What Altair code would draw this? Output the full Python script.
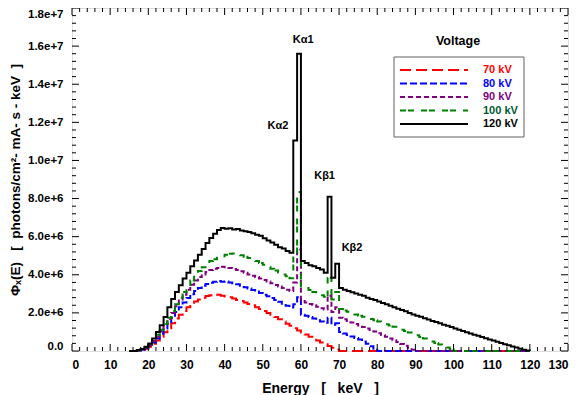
import altair as alt
import pandas as pd

# ---------------- data (values in units of 1e6 photons/cm^2-mA-s-keV) -------------
SERIES = ["70 kV", "80 kV", "90 kV", "100 kV", "120 kV"]
E_FIRST_BIN = 17          # first 1-keV bin (keV)
E_LAST = 120              # spectra drawn to this energy

PHI_70 = [0.02, 0.05, 0.12, 0.22, 0.38, 0.55, 0.75, 0.98, 1.2, 1.45, 1.7, 1.9, 2.1, 2.3,
          2.45, 2.6, 2.7, 2.8, 2.88, 2.93, 2.97, 2.95, 2.9, 2.86, 2.82, 2.75, 2.68, 2.62,
          2.55, 2.47, 2.4, 2.3, 2.2, 2.1, 2.0, 1.9, 1.78, 1.66, 1.55, 1.43, 1.32, 1.2,
          1.08, 0.97, 0.86, 0.75, 0.65, 0.55, 0.45, 0.35, 0.26, 0.17, 0.08]

PHI_80 = [0.03, 0.06, 0.15, 0.28, 0.45, 0.65, 0.9, 1.18, 1.45, 1.75, 2.05, 2.3, 2.55, 2.78,
          2.98, 3.15, 3.3, 3.42, 3.52, 3.58, 3.63, 3.67, 3.63, 3.65, 3.6, 3.55, 3.5, 3.42,
          3.35, 3.28, 3.2, 3.12, 3.05, 2.95, 2.87, 2.78, 2.68, 2.58, 2.48, 2.38, 2.28,
          2.45, 2.82, 1.9, 1.85, 1.78, 1.7, 1.62, 1.55, 1.48, 1.75, 1.38, 1.45, 1.0, 0.92,
          0.84, 0.76, 0.68, 0.6, 0.5, 0.38, 0.25, 0.12]

PHI_90 = [0.03, 0.07, 0.17, 0.32, 0.52, 0.75, 1.02, 1.35, 1.68, 2.0, 2.35, 2.65, 2.95, 3.22,
          3.48, 3.7, 3.88, 4.02, 4.15, 4.25, 4.32, 4.35, 4.42, 4.4, 4.35, 4.3, 4.25, 4.18,
          4.1, 4.02, 3.95, 3.88, 3.8, 3.72, 3.65, 3.55, 3.47, 3.38, 3.3, 3.22, 3.15, 3.6,
          5.33, 2.62, 2.55, 2.47, 2.4, 2.32, 2.25, 2.18, 2.9, 2.05, 2.3, 1.75, 1.66, 1.58,
          1.5, 1.42, 1.34, 1.26, 1.18, 1.1, 1.02, 0.93, 0.84, 0.75, 0.66, 0.57, 0.47, 0.37,
          0.27, 0.17, 0.07]

PHI_100 = [0.04, 0.08, 0.2, 0.36, 0.58, 0.85, 1.12, 1.42, 1.75, 2.1, 2.45, 2.8, 3.1, 3.4,
           3.7, 3.97, 4.2, 4.4, 4.6, 4.72, 4.82, 4.9, 4.97, 5.05, 5.1, 5.12, 5.08, 5.02,
           4.95, 4.88, 4.8, 4.72, 4.62, 4.52, 4.42, 4.32, 4.22, 4.12, 4.02, 3.92, 3.82,
           5.0, 8.35, 3.38, 3.3, 3.2, 3.1, 3.0, 2.92, 2.85, 3.85, 2.7, 3.1, 2.2, 2.13, 2.06,
           1.99, 1.92, 1.85, 1.8, 1.74, 1.68, 1.62, 1.55, 1.48, 1.41, 1.34, 1.27, 1.2, 1.12,
           1.05, 0.97, 0.9, 0.82, 0.74, 0.66, 0.58, 0.5, 0.42, 0.34, 0.26, 0.18, 0.11]

PHI_120 = [0.05, 0.1, 0.22, 0.4, 0.66, 1.0, 1.35, 1.78, 2.3, 2.73, 3.1, 3.45, 3.8, 4.11,
           4.45, 4.75, 5.05, 5.35, 5.67, 5.93, 6.15, 6.35, 6.45, 6.42, 6.44, 6.38, 6.4,
           6.33, 6.28, 6.25, 6.18, 6.1, 6.05, 5.92, 5.8, 5.7, 5.58, 5.45, 5.38, 5.25, 5.15,
           11.05, 15.6, 4.72, 4.62, 4.5, 4.45, 4.35, 4.28, 4.11, 8.09, 3.85, 4.58, 3.3, 3.22,
           3.15, 3.08, 3.02, 2.95, 2.9, 2.8, 2.73, 2.68, 2.6, 2.52, 2.45, 2.38, 2.3, 2.22,
           2.15, 2.08, 2.0, 1.92, 1.85, 1.8, 1.72, 1.65, 1.58, 1.52, 1.45, 1.38, 1.32, 1.26,
           1.18, 1.12, 1.05, 0.98, 0.92, 0.85, 0.8, 0.74, 0.67, 0.61, 0.55, 0.49, 0.42,
           0.36, 0.3, 0.24, 0.18, 0.12, 0.07, 0.02]

SPECTRA = [PHI_70, PHI_80, PHI_90, PHI_100, PHI_120]

PEAK_LABELS = ["K\u03b11", "K\u03b12", "K\u03b21", "K\u03b22"]
PEAK_LABEL_E = [60.6, 54.0, 66.2, 73.4]
PEAK_LABEL_PHI = [16.3, 11.8, 9.2, 5.4]

X_MAJOR = list(range(0, 131, 10))
X_MINOR = [v for v in range(0, 131, 2) if v % 10]
Y_MAJOR = [i * 2e6 for i in range(10)]
Y_MINOR = [i * 4e5 for i in range(46) if i % 5]

# ---------------- styles ---------------------------------------------------------
LINE_COLORS = ["#ff0000", "#0000ff", "#800080", "#008000", "#000000"]
LABEL_COLORS = ["#ff0000", "#0000ff", "#800080", "#005a32", "#000000"]
DASHES = [[11, 5], [7, 3], [5, 3], [6, 2, 6, 7], [1, 0]]
FONT = "Liberation Sans"
W, H = 496, 343
NB = "\u00a0"

X_TITLE = f"Energy{NB*3}[{NB*3}keV{NB*3}]"
Y_TITLE = f"\u03a6\u2093(E){NB*3}[{NB*2}photons/cm\u00b2- mA- s - keV{NB*2}]"

# ---------------- build tables -----------------------------------------------------
rows = []
for name, vals in zip(SERIES, SPECTRA):
    rows.append({"series": name, "E": 15, "phi": 0.0})
    rows.append({"series": name, "E": 16, "phi": 0.0})
    for i, v in enumerate(vals):
        rows.append({"series": name, "E": E_FIRST_BIN + i, "phi": v * 1e6})
    for e in range(E_FIRST_BIN + len(vals), E_LAST + 1):
        rows.append({"series": name, "E": e, "phi": 0.0})
spec = pd.DataFrame(rows)

x_scale = alt.Scale(domain=[0, 130], nice=False, zero=False)
y_scale = alt.Scale(domain=[0, 1.8e7], nice=False)
x_axis = alt.Axis(values=X_MAJOR, title=X_TITLE, grid=False, ticks=False,
                  tickSize=0, domain=False, labelPadding=8, titlePadding=11,
                  labelOverlap=False,
                  labelFontSize=12, labelFont=FONT, labelFontWeight="bold",
                  titleFont=FONT, titleFontSize=14, titleFontWeight="bold",
                  labelColor="black", titleColor="black")
y_axis = alt.Axis(values=Y_MAJOR, grid=False, ticks=False, tickSize=0, domain=False,
                  labelExpr="datum.value == 0 ? '0.0' : format(datum.value, '.1e')",
                  title=Y_TITLE, labelOverlap=False,
                  labelPadding=9, titlePadding=5, labelFlush=True,
                  labelFontSize=11.5, labelFont=FONT, labelFontWeight="bold",
                  titleFont=FONT, titleFontSize=13.5, titleFontWeight="bold",
                  labelColor="black", titleColor="black")
color_line = alt.Color("series:N", scale=alt.Scale(domain=SERIES, range=LINE_COLORS), legend=None)
dash_enc = alt.StrokeDash("series:N", scale=alt.Scale(domain=SERIES, range=DASHES), legend=None)

lines = alt.Chart(spec).mark_line(interpolate="step-after", strokeWidth=2).encode(
    x=alt.X("E:Q", scale=x_scale, axis=x_axis),
    y=alt.Y("phi:Q", scale=y_scale, axis=y_axis),
    color=color_line,
    strokeDash=dash_enc,
    order=alt.Order("E:Q"),
)

# inward tick marks on all four sides
def xticks(vals, length):
    d = pd.DataFrame({"t": vals})
    bottom = alt.Chart(d).mark_rule(color="black", strokeWidth=1).encode(
        x=alt.X("t:Q", scale=x_scale, axis=x_axis), y=alt.value(H), y2=alt.value(H - length))
    top = alt.Chart(d).mark_rule(color="black", strokeWidth=1).encode(
        x=alt.X("t:Q", scale=x_scale, axis=x_axis), y=alt.value(0), y2=alt.value(length))
    return [bottom, top]

def yticks(vals, length):
    d = pd.DataFrame({"t": vals})
    left = alt.Chart(d).mark_rule(color="black", strokeWidth=1).encode(
        y=alt.Y("t:Q", scale=y_scale, axis=y_axis), x=alt.value(0), x2=alt.value(length))
    right = alt.Chart(d).mark_rule(color="black", strokeWidth=1).encode(
        y=alt.Y("t:Q", scale=y_scale, axis=y_axis), x=alt.value(W), x2=alt.value(W - length))
    return [left, right]

ticks = xticks(X_MAJOR, 7) + xticks(X_MINOR, 4) + yticks(Y_MAJOR, 7) + yticks(Y_MINOR, 4)

# peak annotations
ann = pd.DataFrame({"label": PEAK_LABELS, "E": PEAK_LABEL_E,
                    "phi": [v * 1e6 for v in PEAK_LABEL_PHI]})
peaks = alt.Chart(ann).mark_text(font=FONT, fontSize=11, fontWeight="bold", color="black").encode(
    x=alt.X("E:Q", scale=x_scale, axis=x_axis), y=alt.Y("phi:Q", scale=y_scale, axis=y_axis),
    text="label:N")

# manual legend
leg = pd.DataFrame({"series": SERIES, "idx": list(range(len(SERIES)))})
leg_box = alt.Chart(pd.DataFrame({"a": [0]})).mark_rect(
    fill="white", stroke="#606060", strokeWidth=1).encode(
    x=alt.value(322), x2=alt.value(452), y=alt.value(49), y2=alt.value(129))
leg_title = alt.Chart(pd.DataFrame({"t": ["Voltage"]})).mark_text(
    font=FONT, fontSize=12.5, fontWeight="bold", color="black").encode(
    x=alt.value(386), y=alt.value(33), text="t:N")
leg_lines = alt.Chart(leg).transform_calculate(ly="62 + datum.idx * 13.5").mark_rule(
    strokeWidth=2).encode(
    x=alt.value(328), x2=alt.value(396), y=alt.Y("ly:Q", scale=None),
    color=color_line, strokeDash=dash_enc)
leg_text = alt.Chart(leg).transform_calculate(ly="62 + datum.idx * 13.5").mark_text(
    font=FONT, fontSize=11, fontWeight="bold", align="left", baseline="middle").encode(
    x=alt.value(411), y=alt.Y("ly:Q", scale=None), text="series:N",
    color=alt.Color("series:N", scale=alt.Scale(domain=SERIES, range=LABEL_COLORS), legend=None))

chart = alt.layer(lines, *ticks, peaks, leg_box, leg_title, leg_lines, leg_text).resolve_scale(
    color="independent"
).properties(
    width=W, height=H,
    autosize=alt.AutoSizeParams(type="none"),
    padding={"left": 64, "top": 0, "right": 2, "bottom": 44},
).configure_view(stroke="black", strokeWidth=1.5).configure(background="white")

chart.save("out.html", embed_options={"renderer": "svg", "actions": False})
